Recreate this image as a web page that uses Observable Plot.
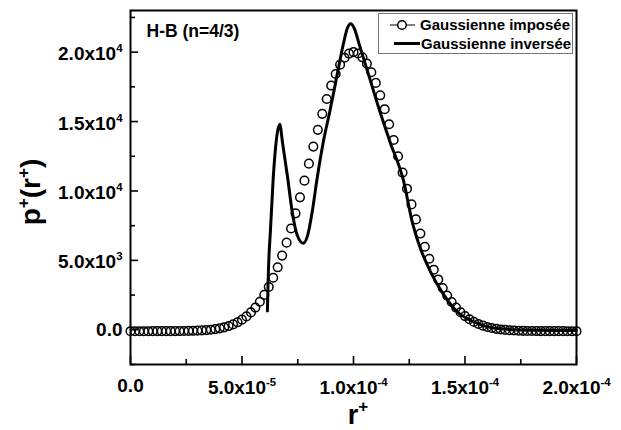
<!DOCTYPE html>
<html><head><meta charset="utf-8">
<script src="https://cdn.jsdelivr.net/npm/d3@7"></script>
<script src="https://cdn.jsdelivr.net/npm/@observablehq/plot@0.6"></script>
<style>
body{margin:0;background:#fff}
#chart svg{font-family:"Liberation Sans",Arial,sans-serif;font-weight:bold}
</style>
</head><body><div id="chart"></div>
<script>
// r+ values are given in units of 1e-6
const rImposed = [0,2,4,6,8,10,12,14,16,18,20,22,24,26,28,30,32,34,36,38,40,42,44,46,48,50,52,54,56,58,60,62,64,66,68,70,72,74,76,78,80,82,84,86,88,90,92,94,96,98,100,102,104,106,108,110,112,114,116,118,120,122,124,126,128,130,132,134,136,138,140,142,144,146,148,150,152,154,156,158,160,162,164,166,168,170,172,174,176,178,180,182,184,186,188,190,192,194,196,198,200];
const pImposed = [-100,-100,-100,-100,-100,-99,-99,-98,-97,-96,-94,-91,-87,-81,-73,-61,-45,-22,8,49,104,175,268,388,539,729,965,1253,1601,2019,2512,3087,3749,4501,5345,6278,7295,8387,9542,10743,11968,13196,14401,15554,16628,17593,18425,19098,19594,19898,20000,19906,19628,19173,18554,17786,16891,15892,14810,13673,12504,11326,10164,9033,7952,6932,5985,5116,4330,3628,3007,2466,1999,1601,1266,987,757,569,417,297,201,127,69,25,-9,-34,-53,-66,-76,-83,-89,-92,-94,-96,-97,-98,-99,-99,-100,-100,-100];
const rInverted = [61.4,61.7,62.8,64.0,65.5,66.9,68.2,70.5,72.5,74.7,77.4,79.5,81.5,83.7,86.5,89.4,92.4,95.4,97.2,98.7,100.4,102.6,107.2,111.8,116.3,122.5,126.3,130.0,134.5,140.5,146.5,153.9,164.4,180,200];
const pInverted = [1350,3470,7310,10920,13810,14800,13450,10920,8520,6840,6230,6840,8520,10920,13570,15740,18150,20550,21700,22040,21700,20550,18150,15740,13570,10690,7800,5870,4190,2510,1300,580,90,-30,-50];

const xTicks = [0, 5e-5, 1e-4, 1.5e-4, 2e-4];
const xTickLabels = ["0.0", "5.0x10^-5", "1.0x10^-4", "1.5x10^-4", "2.0x10^-4"];
const xMinor = [2.5e-5, 7.5e-5, 1.25e-4, 1.75e-4];
const yTicks = [0, 5000, 10000, 15000, 20000];
const yTickLabels = ["0.0", "5.0x10^3", "1.0x10^4", "1.5x10^4", "2.0x10^4"];
const yMinor = [-2500, 2500, 7500, 12500, 17500, 22500];
const seriesNames = ["Gaussienne imposée", "Gaussienne inversée"];
const annotation = "H-B (n=4/3)";
const xDomain = [0, 2e-4];
const yDomain = [-2500, 23000];

const imposed = rImposed.map((r, i) => ({r: r * 1e-6, p: pImposed[i]}));
const inverted = rInverted.map((r, i) => ({r: r * 1e-6, p: pInverted[i]}));

const W = 621, H = 430, ML = 130, MR = 45, MT = 10, MB = 66;
const FW = W - ML - MR, FH = H - MT - MB;
// tick lengths (pixels) expressed in data units
const kx = (xDomain[1] - xDomain[0]) / FW, ky = (yDomain[1] - yDomain[0]) / FH;
const majorLen = 8, minorLen = 5;

const chart = Plot.plot({
  width: W, height: H,
  marginLeft: ML, marginRight: MR, marginTop: MT, marginBottom: MB,
  style: {fontFamily: "'Liberation Sans', Arial, sans-serif", fontWeight: "bold", color: "black", background: "white"},
  x: {domain: xDomain, label: null},
  y: {domain: yDomain, label: null},
  marks: [
    // inward tick marks
    Plot.ruleX(xTicks, {y1: yDomain[0], y2: yDomain[0] + majorLen * ky, stroke: "black", strokeWidth: 1.6}),
    Plot.ruleX(xMinor, {y1: yDomain[0], y2: yDomain[0] + minorLen * ky, stroke: "black", strokeWidth: 1.6}),
    Plot.ruleY(yTicks, {x1: xDomain[0], x2: xDomain[0] + majorLen * kx, stroke: "black", strokeWidth: 1.6}),
    Plot.ruleY(yMinor, {x1: xDomain[0], x2: xDomain[0] + minorLen * kx, stroke: "black", strokeWidth: 1.6}),
    Plot.axisX(xTicks, {tickSize: 0, tickPadding: 14, fontSize: 19, tickFormat: d => xTickLabels[xTicks.indexOf(d)]}),
    Plot.axisY(yTicks, {tickSize: 0, tickPadding: 8, fontSize: 19, tickFormat: d => yTickLabels[yTicks.indexOf(d)]}),
    Plot.dot(imposed, {x: "r", y: "p", r: 4.3, stroke: "black", strokeWidth: 1.5, fill: "none"}),
    Plot.line(inverted, {x: "r", y: "p", stroke: "black", strokeWidth: 3, curve: "monotone-x"}),
    Plot.frame({stroke: "black", strokeWidth: 2}),
    Plot.text([annotation], {frameAnchor: "top-left", dx: 16, dy: 14, fontSize: 17.5, fontWeight: "bold", textAnchor: "start", lineAnchor: "top"})
  ]
});

// superscripts in tick labels
d3.select(chart).selectAll("text").each(function() {
  const s = this.textContent;
  if (!s.includes("^")) return;
  const [base, sup] = s.split("^");
  const t = d3.select(this);
  t.text(null);
  t.append("tspan").attr("dy", "2").text(base);
  t.append("tspan").attr("dy", "-8").attr("font-size", "0.6em").text(sup);
});

const svg = d3.select(chart);
// axis titles
const yt = svg.append("text").attr("transform", "translate(40,192) rotate(-90)")
  .attr("text-anchor", "middle").attr("font-size", 28).attr("font-weight", "bold");
yt.append("tspan").text("p");
yt.append("tspan").attr("dy", -11).attr("font-size", 17).text("+");
yt.append("tspan").attr("dy", 11).text("(r");
yt.append("tspan").attr("dy", -11).attr("font-size", 17).text("+");
yt.append("tspan").attr("dy", 11).text(")");

const xt = svg.append("text").attr("x", 358).attr("y", 424)
  .attr("text-anchor", "middle").attr("font-size", 27).attr("font-weight", "bold");
xt.append("tspan").text("r");
xt.append("tspan").attr("dy", -12).attr("font-size", 17).text("+");

// legend
const lg = svg.append("g").attr("font-size", 15).attr("font-weight", "bold").attr("text-anchor", "start");
lg.append("rect").attr("x", 378.5).attr("y", 13.5).attr("width", 194).attr("height", 40)
  .attr("fill", "white").attr("stroke", "#777").attr("stroke-width", 1);
lg.append("line").attr("x1", 390).attr("x2", 415).attr("y1", 25).attr("y2", 25).attr("stroke", "black").attr("stroke-width", 1);
lg.append("circle").attr("cx", 402).attr("cy", 25).attr("r", 4.3).attr("fill", "white").attr("stroke", "black").attr("stroke-width", 1.5);
lg.append("text").attr("x", 420).attr("y", 30).text(seriesNames[0]);
lg.append("line").attr("x1", 394).attr("x2", 420).attr("y1", 43.5).attr("y2", 43.5).attr("stroke", "black").attr("stroke-width", 3);
lg.append("text").attr("x", 421).attr("y", 49).text(seriesNames[1]);

document.getElementById("chart").append(chart);
</script>
</body></html>
